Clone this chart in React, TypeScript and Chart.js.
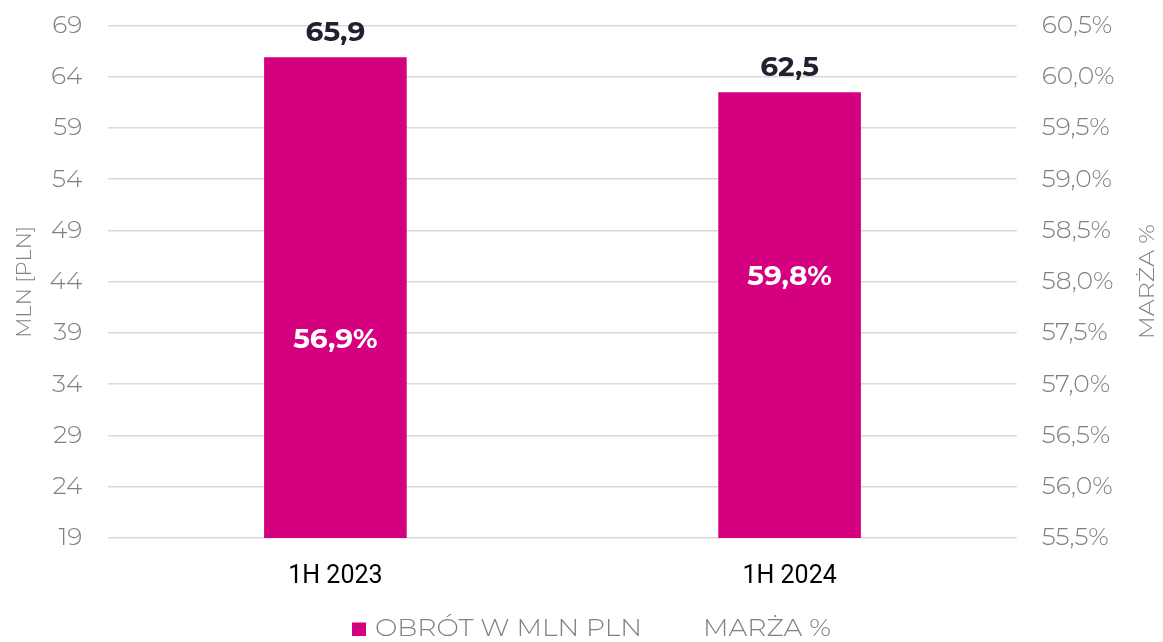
import React, { useEffect, useRef } from "react";
import { Chart, registerables } from "chart.js";

Chart.register(...registerables);

const categories = ["1H 2023", "1H 2024"];
const turnover = [65.9, 62.5];
const margin = [56.9, 59.8];
const leftTicks = { min: 19, max: 69, step: 5 };
const rightTicks = { min: 55.5, max: 60.5, step: 0.5 };
const seriesNames = ["OBRÓT W MLN PLN", "MARŻA %"];
const axisTitles = ["MLN [PLN]", "MARŻA %"];

const MAGENTA = "#d5007f";
const GRAY = "#808080";
const LIGHT = "Montserrat, 'Open Sans', sans-serif";

const fmt = (v: number, d: number) => v.toFixed(d).replace(".", ",");

function fitText(ctx: CanvasRenderingContext2D, text: string, x: number, y: number, width: number) {
  const w = ctx.measureText(text).width;
  const s = width / w;
  ctx.save();
  ctx.translate(x, y);
  ctx.scale(s, 1);
  ctx.fillText(text, 0, 0);
  ctx.restore();
}

const decorPlugin = {
  id: "decor",
  afterDatasetsDraw(chart: any) {
    const ctx = chart.ctx as CanvasRenderingContext2D;
    const area = chart.chartArea;
    ctx.save();
    ctx.textAlign = "center";
    ctx.textBaseline = "middle";
    const barMeta = chart.getDatasetMeta(0);
    barMeta.data.forEach((el: any, i: number) => {
      ctx.font = "bold 28px " + LIGHT;
      ctx.fillStyle = "#1f2130";
      ctx.fillText(fmt(turnover[i], 1), el.x, el.y - 24.5);
    });
    const lineMeta = chart.getDatasetMeta(1);
    lineMeta.data.forEach((el: any, i: number) => {
      ctx.font = "bold 28px " + LIGHT;
      ctx.fillStyle = "#ffffff";
      ctx.fillText(fmt(margin[i], 1) + "%", el.x, el.y);
    });

    // axis titles (both read bottom-to-top)
    const midY = (area.top + area.bottom) / 2;
    ctx.fillStyle = GRAY;
    ctx.font = "300 21px " + LIGHT;
    ctx.textAlign = "left";
    ctx.save();
    ctx.translate(24.5, midY);
    ctx.rotate(-Math.PI / 2);
    fitText(ctx, axisTitles[0], -56, 0, 112);
    ctx.restore();
    ctx.save();
    ctx.translate(1148, midY);
    ctx.rotate(-Math.PI / 2);
    fitText(ctx, axisTitles[1], -57.5, 0, 115);
    ctx.restore();

    // legend
    const box = 14;
    const gapBox = 9;
    const w1 = 267;
    const gapItems = 61;
    const w2 = 128;
    const total = box + gapBox + w1 + gapItems + w2;
    const cx = chart.width / 2 + 10;
    let x = cx - total / 2;
    const ly = 629;
    ctx.fillStyle = MAGENTA;
    ctx.fillRect(x, ly - 6.5, box, 13.5);
    x += box + gapBox;
    ctx.fillStyle = GRAY;
    ctx.font = "300 24px " + LIGHT;
    fitText(ctx, seriesNames[0], x, ly, w1);
    x += w1 + gapItems;
    fitText(ctx, seriesNames[1], x, ly, w2);
    ctx.restore();
  },
};

export default function App() {
  const ref = useRef<HTMLCanvasElement | null>(null);
  useEffect(() => {
    if (!ref.current) return;
    const chart = new Chart(ref.current, {
      type: "bar",
      data: {
        labels: categories,
        datasets: [
          {
            type: "bar",
            label: seriesNames[0],
            data: turnover,
            backgroundColor: MAGENTA,
            yAxisID: "y",
            barPercentage: 0.314,
            categoryPercentage: 1,
          },
          {
            type: "line",
            label: seriesNames[1],
            data: margin,
            borderColor: "rgba(0,0,0,0)",
            backgroundColor: "rgba(0,0,0,0)",
            pointRadius: 0,
            yAxisID: "y3",
          } as any,
        ],
      },
      options: {
        animation: false,
        responsive: false,
        maintainAspectRatio: false,
        layout: { padding: { left: 0, right: 0, top: 25.5, bottom: 26 } },
        plugins: {
          legend: { display: false },
          tooltip: { enabled: false },
        },
        scales: {
          x: {
            grid: { display: false, drawTicks: false },
            border: { display: false },
            ticks: {
              color: "#000000",
              padding: 24,
              font: { size: 25, family: "Roboto, 'Liberation Sans', sans-serif" },
            },
          },
          y: {
            position: "left",
            min: leftTicks.min,
            max: leftTicks.max,
            afterFit: (s: any) => {
              s.width = 108.3;
              s.paddingTop = 0;
              s.paddingBottom = 0;
            },
            grid: { color: "#d9d9d9", lineWidth: 1.6, drawTicks: false },
            border: { display: false },
            ticks: {
              stepSize: leftTicks.step,
              color: GRAY,
              padding: 26,
              font: { size: 25, family: LIGHT, weight: 300 as any },
            },
          },
          y2: {
            position: "right",
            min: rightTicks.min,
            max: rightTicks.max,
            afterFit: (s: any) => {
              s.width = 146.3;
              s.paddingTop = 0;
              s.paddingBottom = 0;
            },
            grid: { display: false, drawTicks: false },
            border: { display: false },
            ticks: {
              stepSize: rightTicks.step,
              color: GRAY,
              padding: 25,
              callback: (v: any) => fmt(Number(v), 1) + "%",
              font: { size: 25, family: LIGHT, weight: 300 as any },
            },
          },
          y3: {
            display: false,
            min: 47.8,
            max: 71.3,
          },
        },
      },
      plugins: [decorPlugin],
    });
    return () => chart.destroy();
  }, []);
  return (
    <div style={{ position: "absolute", left: 0, top: 0, width: 1163, height: 642 }}>
      <canvas ref={ref} width={1163} height={642} style={{ width: 1163, height: 642 }} />
    </div>
  );
}
